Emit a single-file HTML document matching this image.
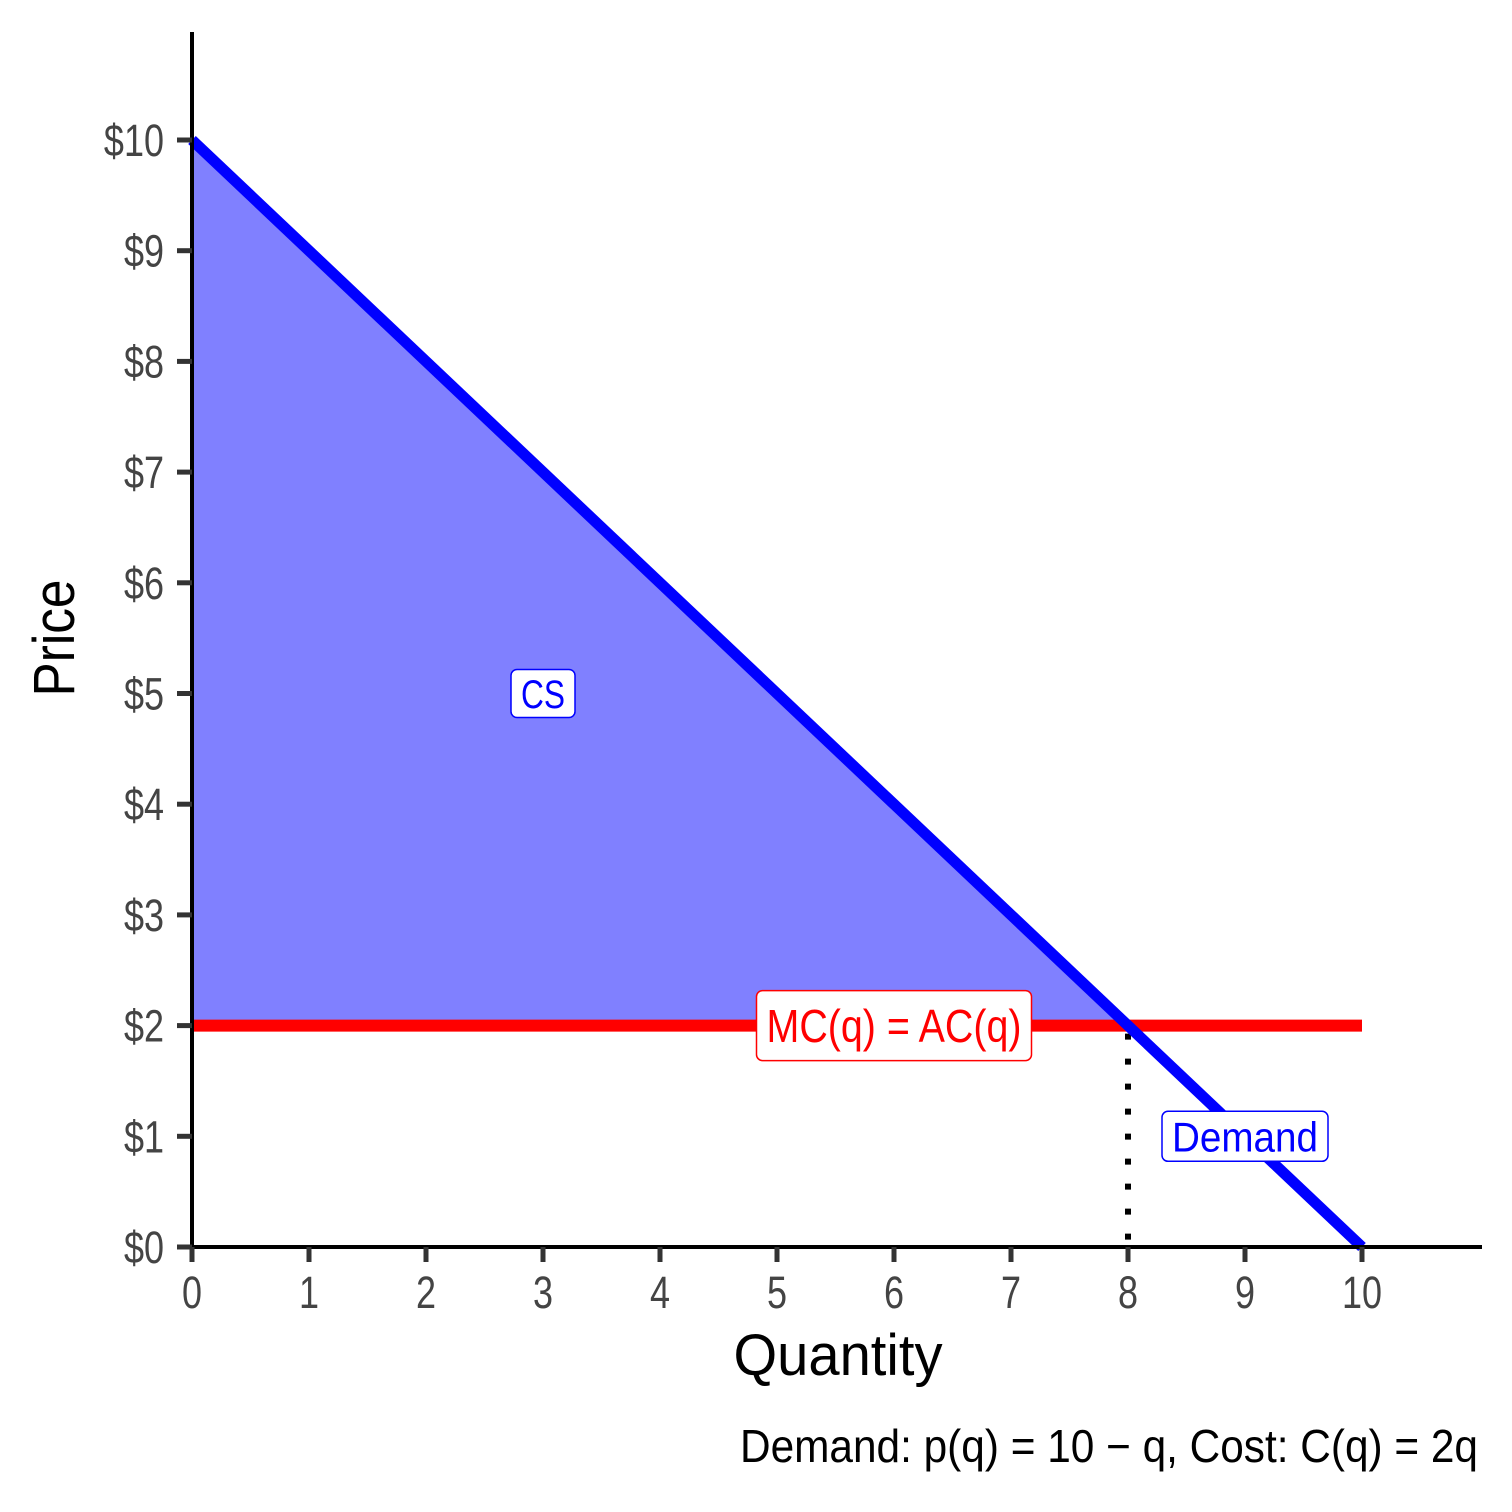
<!DOCTYPE html>
<html><head><meta charset="utf-8"><style>
html,body{margin:0;padding:0;background:#fff;}
svg{display:block;font-family:"Liberation Sans Narrow","Liberation Sans",sans-serif;}
</style></head><body>
<svg id="chart" width="1512" height="1512" viewBox="0 0 1512 1512" xmlns="http://www.w3.org/2000/svg">
<g id="marks"></g>
<g id="axes"></g>
<text x="0" y="0" transform="translate(74,638) rotate(-90)" text-anchor="middle" font-size="58" textLength="117" lengthAdjust="spacingAndGlyphs">Price</text>
<text x="838" y="1375" text-anchor="middle" font-size="58" textLength="209" lengthAdjust="spacingAndGlyphs">Quantity</text>
<text x="1478" y="1462" text-anchor="end" font-size="46" textLength="738" lengthAdjust="spacingAndGlyphs">Demand: p(q) = 10 − q, Cost: C(q) = 2q</text>
</svg>
<script>
const xTicks = [0,1,2,3,4,5,6,7,8,9,10];
const yTicks = [0,1,2,3,4,5,6,7,8,9,10];
const yTickLabels = ["$0","$1","$2","$3","$4","$5","$6","$7","$8","$9","$10"];
const demandQ = [0, 10];
const demandP = [10, 0];
const mcQ = [0, 10];
const mcP = [2, 2];
const csQ = [0, 8, 0];
const csP = [10, 2, 2];
const eqQ = [8];
const eqP = [2];
const labelNames = ["CS","MC(q) = AC(q)","Demand"];
const labelQ = [3, 6, 9];
const labelP = [5, 2, 1];

const NS = "http://www.w3.org/2000/svg";
const X = q => 192 + q * 117;
const Y = p => 1247 - p * 110.7;
const marks = document.getElementById('marks');
const axes = document.getElementById('axes');
function mk(tag, attrs, parent){
  const e = document.createElementNS(NS, tag);
  for (const k in attrs) e.setAttribute(k, attrs[k]);
  parent.appendChild(e); return e;
}
function squeeze(t, f){
  const w = t.getComputedTextLength();
  if (w > 0) { t.setAttribute('textLength', w * f); t.setAttribute('lengthAdjust', 'spacingAndGlyphs'); }
}
const cs = mk('polygon', {points: csQ.map((q,i)=>X(q)+','+Y(csP[i])).join(' '), fill:'#8080ff'}, marks);


const dl = mk('line', {x1:X(eqQ[0]), x2:X(eqQ[0]), y1:Y(eqP[0])+8, y2:Y(0), stroke:'#000', 'stroke-width':6, 'stroke-dasharray':'6 19'}, marks);


const mc = mk('line', {x1:X(mcQ[0]), x2:X(mcQ[1]), y1:Y(mcP[0]), y2:Y(mcP[1]), stroke:'#ff0000', 'stroke-width':12}, marks);


const dm = mk('line', {x1:X(demandQ[0]), x2:X(demandQ[1]), y1:Y(demandP[0]), y2:Y(demandP[1]), stroke:'#0000ff', 'stroke-width':11}, marks);


const ya = mk('line', {x1:192, x2:192, y1:32, y2:1249, stroke:'#000', 'stroke-width':4}, axes);


const xa = mk('line', {x1:190, x2:1482, y1:1247, y2:1247, stroke:'#000', 'stroke-width':4}, axes);


xTicks.forEach(q=>{
  const t = mk('line', {x1:X(q), x2:X(q), y1:1247, y2:1262, stroke:'#333', 'stroke-width':5}, axes);
  
  
  const l = mk('text', {x:X(q), y:1308, 'text-anchor':'middle', 'font-size':45, fill:'#444'}, axes);
  l.textContent = String(q);
  
  
  squeeze(l, 0.8);
});
yTicks.forEach((p,i)=>{
  const t = mk('line', {x1:177, x2:192, y1:Y(p), y2:Y(p), stroke:'#333', 'stroke-width':5}, axes);
  
  
  const l = mk('text', {x:164, y:Y(p)+16, 'text-anchor':'end', 'font-size':45, fill:'#444'}, axes);
  l.textContent = yTickLabels[i];
  
  
  squeeze(l, 0.8);
});
const labelColors = ['#0000ff','#ff0000','#0000ff'];
const labelW = [64, 275, 166];
const labelH = [48, 70, 50];
const labelFs = [40, 46, 42];
labelNames.forEach((n,i)=>{
  const g = mk('g', {}, marks);
  
  
  const cx = X(labelQ[i]), cy = Y(labelP[i]);
  mk('rect', {x:cx-labelW[i]/2, y:cy-labelH[i]/2, width:labelW[i], height:labelH[i], rx:6, fill:'#fff', stroke:labelColors[i], 'stroke-width':1.5}, g);
  const t = mk('text', {x:cx, y:cy+labelFs[i]*0.36, 'text-anchor':'middle', 'font-size':labelFs[i], fill:labelColors[i], textLength:labelW[i]-20, lengthAdjust:'spacingAndGlyphs'}, g);
  t.textContent = n;
});
</script>
</body></html>
